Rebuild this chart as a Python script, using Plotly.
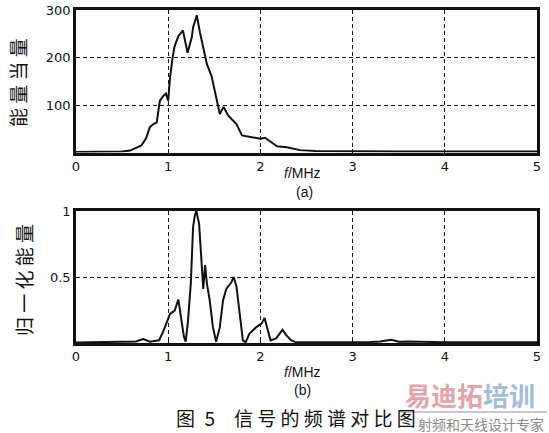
import plotly.graph_objects as go

# ---- data (a): energy equivalent spectrum ----
freq_a = [0, 0.2, 0.4, 0.5, 0.586, 0.65, 0.71, 0.76, 0.80, 0.84, 0.875, 0.895, 0.91, 0.947,
          0.976, 1.0, 1.02, 1.05, 1.07, 1.11, 1.16, 1.21, 1.255, 1.27, 1.31, 1.345, 1.38,
          1.42, 1.47, 1.51, 1.56, 1.60, 1.65, 1.70, 1.74, 1.80, 1.85, 1.90, 2.0, 2.05, 2.10,
          2.18, 2.285, 2.43, 2.6, 3.0, 3.5, 4.0, 4.5, 5.0]
energy_a = [1, 1, 2, 2, 4, 9, 15, 30, 53, 60, 63, 90, 109, 119,
            124, 109, 158, 203, 224, 245, 257, 210, 242, 263, 289, 252, 221,
            186, 161, 123, 81, 96, 78, 68, 60, 36, 34, 32, 29, 31, 24,
            13, 11, 5, 3, 2, 2, 2, 2, 2]

# ---- data (b): normalised energy spectrum ----
freq_b = [0, 0.3, 0.55, 0.65, 0.73, 0.80, 0.90, 0.945, 1.02, 1.07, 1.11, 1.14, 1.17, 1.19,
          1.215, 1.245, 1.27, 1.29, 1.305, 1.335, 1.36, 1.38, 1.40, 1.42, 1.45, 1.485, 1.52,
          1.56, 1.595, 1.63, 1.685, 1.71, 1.74, 1.775, 1.81, 1.84, 1.88, 1.955, 2.01, 2.045,
          2.08, 2.11, 2.17, 2.24, 2.28, 2.335, 2.39, 2.8, 3.2, 3.3, 3.42, 3.5, 3.6, 4.0, 4.5, 5.0]
energy_b = [0.003, 0.005, 0.006, 0.012, 0.03, 0.01, 0.02, 0.085, 0.22, 0.245, 0.33, 0.17, 0.05, 0.01,
            0.17, 0.45, 0.88, 0.97, 1.0, 0.905, 0.63, 0.41, 0.59, 0.45, 0.325, 0.12, 0.01,
            0.12, 0.325, 0.41, 0.46, 0.50, 0.43, 0.22, 0.02, 0.005, 0.07, 0.12, 0.145, 0.19,
            0.085, 0.02, 0.035, 0.10, 0.06, 0.02, 0.005, 0.005, 0.008, 0.012, 0.025, 0.01, 0.012, 0.006, 0.005, 0.005]

x_ticks = [0, 1, 2, 3, 4, 5]
x_ticktext = ["0", "1", "2", "3", "4", "5"]
ya_ticks = [100, 200, 300]
ya_ticktext = ["100", "200", "300"]
yb_ticks = [0.5, 1]
yb_ticktext = ["0.5", "1"]

W, H = 549, 433
def px(x):
    return x / W
def py(y):
    return 1 - y / H

CJK = "Noto Sans CJK SC"
TICKFONT = dict(family="DejaVu Sans", size=13, color="#111")

fig = go.Figure()
fig.add_trace(go.Scatter(x=freq_a, y=energy_a, mode="lines",
                         line=dict(color="#111", width=2), xaxis="x", yaxis="y", showlegend=False))
fig.add_trace(go.Scatter(x=freq_b, y=energy_b, mode="lines",
                         line=dict(color="#111", width=2), xaxis="x2", yaxis="y2", showlegend=False))

xdom = [px(76), px(537)]
common_x = dict(range=[0, 5], tickvals=x_ticks, ticktext=x_ticktext, showgrid=True,
                gridcolor="#1a1a1a", griddash="4px,3px", gridwidth=1.4, showline=True, mirror=True,
                linecolor="#111", linewidth=2.5, ticks="inside", ticklen=4, tickcolor="#111",
                tickfont=TICKFONT, zeroline=False, domain=xdom, ticklabelstandoff=0,
                automargin=False)
common_y = dict(showgrid=True, gridcolor="#1a1a1a", griddash="4px,3px", gridwidth=1.4,
                showline=True, mirror=True, linecolor="#111", linewidth=2.5, ticks="inside",
                ticklen=4, tickcolor="#111", tickfont=TICKFONT, zeroline=False,
                automargin=False)

fig.update_layout(
    width=W, height=H, margin=dict(l=0, r=0, t=0, b=0, pad=0, autoexpand=False),
    paper_bgcolor="white", plot_bgcolor="white",
    xaxis=dict(common_x, anchor="y"),
    yaxis=dict(common_y, range=[0, 300], tickvals=ya_ticks, ticktext=ya_ticktext,
               domain=[py(152.5), py(10)], anchor="x"),
    xaxis2=dict(common_x, anchor="y2"),
    yaxis2=dict(common_y, range=[0, 1], tickvals=yb_ticks, ticktext=yb_ticktext,
                domain=[py(343), py(211)], anchor="x2"),
)

ann = []
def add(text, x, y, size, family=CJK, color="#111", angle=0):
    ann.append(dict(text=text, x=px(x), y=py(y), xref="paper", yref="paper",
                    showarrow=False, xanchor="center", yanchor="middle",
                    textangle=angle, font=dict(family=family, size=size, color=color)))

add("能 量 当 量", 18, 83, 19, angle=-90)
add("归 一 化 能 量", 23, 280, 19, angle=-90)
add("<i>f</i>/MHz", 303, 173, 14, family="Liberation Sans")
add("(a)", 304, 192, 14, family="Liberation Sans")
add("<i>f</i>/MHz", 303, 372, 14, family="Liberation Sans")
add("(b)", 303, 390, 14, family="Liberation Sans")
add("图\u20025\u3000信 号 的 频 谱 对 比 图", 296, 417, 19)
add('<b><span style="color:#e8a3a8">易迪拓</span><span style="color:#a3bcdc">培训</span></b>',
    470, 394, 26)
add("射频和天线设计专家", 481, 424, 14, color="#8a8a8a")
fig.update_layout(annotations=ann)

fig.add_shape(type="line", xref="paper", yref="paper", x0=px(400), x1=px(547),
              y0=py(412), y1=py(412), line=dict(color="#b5b5b5", width=1.5))

fig.write_html("out.html", config={"displayModeBar": False},
               post_script="document.body.style.margin='0px';document.body.style.overflow='hidden';")
